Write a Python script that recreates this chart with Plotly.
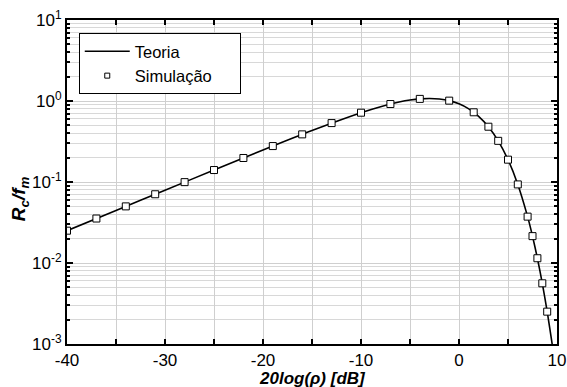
import plotly.graph_objects as go

# Theory curve
theory_x = [-40, -35, -30, -25, -20, -15, -10, -8, -6, -5, -4, -3, -2, -1, 0, 1, 2, 3, 4, 5, 6, 7, 7.5, 8, 8.5, 9, 9.5, 10]
theory_y = [0.02506, 0.04456, 0.07919, 0.1405, 0.2482, 0.4319, 0.7172, 0.8516, 0.9772, 1.027, 1.062, 1.075, 1.059,
            1.010, 0.9221, 0.7987, 0.6468, 0.4815, 0.3223, 0.1887, 0.09335, 0.03735, 0.02146, 0.01145, 0.005614,
            0.002508, 0.001008, 0.00036]

# Simulation points
sim_x = [-40, -37, -34, -31, -28, -25, -22, -19, -16, -13, -10, -7, -4, -1, 1.5, 3, 4, 5, 6, 7, 7.5, 8, 8.5, 9]
sim_y = [0.02506, 0.03541, 0.05001, 0.07059, 0.09963, 0.1405, 0.1979, 0.2777, 0.3874, 0.5337, 0.7172, 0.9171,
         1.062, 1.010, 0.7255, 0.4815, 0.3223, 0.1887, 0.09335, 0.03735, 0.02146, 0.01145, 0.005614, 0.002508]

x_tickvals = [-40, -35, -30, -25, -20, -15, -10, -5, 0, 5, 10]
x_ticktext = ["-40", "", "-30", "", "-20", "", "-10", "", "0", "", "10"]
y_tickvals = [1e-3, 1e-2, 1e-1, 1, 10]
y_ticktext = ["10<sup>-3</sup>", "10<sup>-2</sup>", "10<sup>-1</sup>", "10<sup>0</sup>", "10<sup>1</sup>"]
y_minor = [m * 10 ** e for e in range(-3, 1) for m in range(2, 10)]

FONT = "Liberation Sans, Arial, sans-serif"

fig = go.Figure()
fig.add_trace(go.Scatter(x=theory_x, y=theory_y, mode="lines", name="Teoria",
                         line=dict(color="black", width=1.6, shape="spline", smoothing=0.6)))
fig.add_trace(go.Scatter(x=sim_x, y=sim_y, mode="markers", name="Simulação", showlegend=False,
                         marker=dict(symbol="square", size=7, color="white", line=dict(width=1, color="black"))))
fig.add_trace(go.Scatter(x=[None], y=[None], mode="markers", name="Simulação\u00a0\u00a0\u00a0\u00a0\u00a0",
                         marker=dict(symbol="square", size=5, color="white", line=dict(width=1, color="black"))))

fig.update_layout(
    width=567, height=387,
    margin=dict(l=67, r=10, t=20, b=43),
    plot_bgcolor="white", paper_bgcolor="white",
    font=dict(family=FONT, size=17, color="black"),
    showlegend=True,
    legend=dict(x=0.024, y=0.96, xanchor="left", yanchor="top",
                bordercolor="black", borderwidth=1, bgcolor="white",
                font=dict(size=16.5, family=FONT), tracegroupgap=0, itemwidth=45),
    annotations=[
        dict(text="<b><i>20log(ρ) [dB]</i></b>", xref="paper", yref="paper", x=0.502, y=-0.105,
             xanchor="center", yanchor="middle", showarrow=False, font=dict(size=17)),
        dict(text="<b><i>R<sub>c</sub>/f<sub>m</sub></i></b>", xref="paper", yref="paper", x=-0.096, y=0.45,
             xanchor="center", yanchor="middle", showarrow=False, textangle=-90, font=dict(size=19)),
    ],
)
fig.update_xaxes(
    range=[-40, 10], tickmode="array", tickvals=x_tickvals, ticktext=x_ticktext,
    ticks="inside", ticklen=5, tickwidth=1.5, tickcolor="black",
    showgrid=True, gridcolor="#cfcfcf", gridwidth=1,
    showline=True, linecolor="black", linewidth=2, mirror="ticks",
    zeroline=False, tickfont=dict(size=17), automargin=False,
)
fig.update_yaxes(
    type="log", range=[-3, 1], tickmode="array", tickvals=y_tickvals, ticktext=y_ticktext,
    ticks="inside", ticklen=6, tickwidth=1.5, tickcolor="black",
    showgrid=True, gridcolor="#cfcfcf", gridwidth=1,
    showline=True, linecolor="black", linewidth=2, mirror="ticks",
    zeroline=False, tickfont=dict(size=17), automargin=False,
    minor=dict(tickmode="array", tickvals=y_minor, ticks="inside", ticklen=3, tickcolor="black",
               showgrid=True, gridcolor="#d8d8d8", gridwidth=1),
)

fig.write_html("out.html", config={"displayModeBar": False},
               post_script="document.body.style.margin='0';document.body.style.overflow='hidden';")
